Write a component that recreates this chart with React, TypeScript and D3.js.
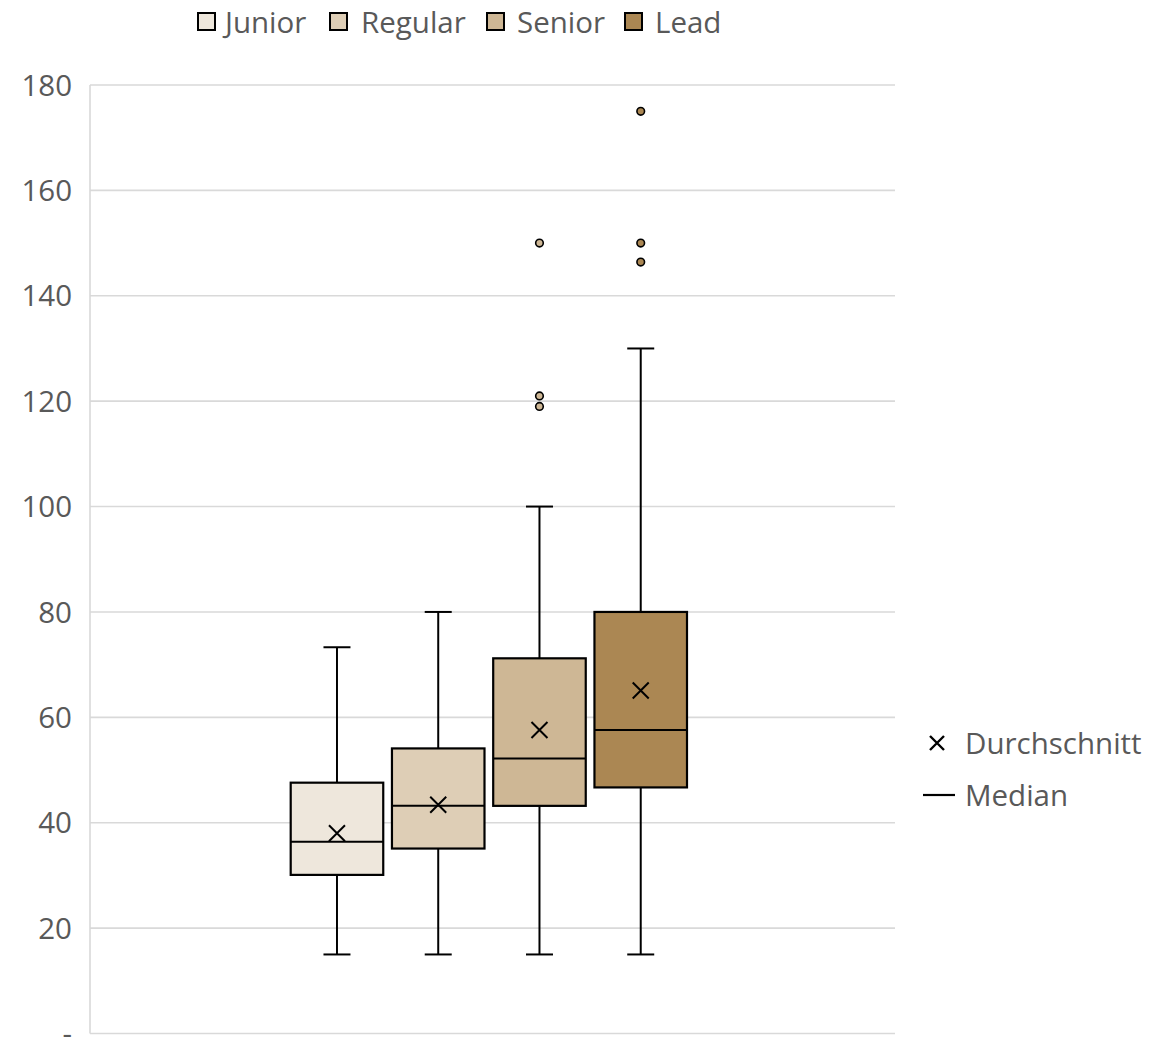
import React from "react";
import * as d3 from "d3";

const series = ["Junior", "Regular", "Senior", "Lead"];
const colors = ["#EEE7DC", "#DECEB6", "#CEB795", "#AB8753"];
const whiskerLow = [15, 15, 15, 15];
const q1 = [30.1, 35.1, 43.2, 46.7];
const median = [36.4, 43.2, 52.2, 57.6];
const q3 = [47.6, 54.1, 71.2, 80];
const whiskerHigh = [73.3, 80, 100, 130];
const mean = [38.0, 43.4, 57.6, 65.1];
const outliers: number[][] = [[], [], [150, 121, 119], [175, 150, 146.4]];
const yTicks = [0, 20, 40, 60, 80, 100, 120, 140, 160, 180];
const meanLabel = "Durchschnitt";
const medianLabel = "Median";

const W = 1170;
const H = 1040;
const plotL = 90;
const plotR = 895;
const plotT = 85;
const plotB = 1033.5;
const font = "'Open Sans', 'Noto Sans', sans-serif";
const textColor = "#595959";
const fs = 29.5;

export default function App() {
  const y = d3.scaleLinear().domain([0, 180]).range([plotB, plotT]);
  const x = d3.scaleBand<string>().domain(series).range([290.7, 687]).paddingInner(0.086).paddingOuter(0);
  const bw = x.bandwidth();
  const cap = 13.5;
  const xm = 8;

  const legendItems = [
    { sx: 198, tx: 225 },
    { sx: 330, tx: 361 },
    { sx: 487, tx: 517 },
    { sx: 625, tx: 655 },
  ];

  return (
    <svg width={W} height={H} style={{ position: "absolute", left: 0, top: 0 }} fontFamily={font}>
      <rect x={0} y={0} width={W} height={H} fill="#fff" />
      {yTicks.filter((t) => t > 0).map((t) => (
        <line key={t} x1={plotL} x2={plotR} y1={y(t)} y2={y(t)} stroke="#D9D9D9" strokeWidth={1.6} />
      ))}
      <line x1={plotL} x2={plotL} y1={plotT} y2={plotB} stroke="#D9D9D9" strokeWidth={1.6} />
      <line x1={plotL} x2={plotR} y1={plotB} y2={plotB} stroke="#D9D9D9" strokeWidth={1.6} />
      {yTicks.map((t) => (
        <text key={t} x={72} y={y(t)} dy="0.36em" textAnchor="end" fontSize={fs} fill={textColor}>
          {t === 0 ? "-" : t}
        </text>
      ))}
      {series.map((s, i) => {
        const x0 = x(s)!;
        const cx = x0 + bw / 2;
        return (
          <g key={s}>
            <line x1={cx} x2={cx} y1={y(whiskerLow[i])} y2={y(q1[i])} stroke="#000" strokeWidth={2} />
            <line x1={cx} x2={cx} y1={y(q3[i])} y2={y(whiskerHigh[i])} stroke="#000" strokeWidth={2} />
            <line x1={cx - cap} x2={cx + cap} y1={y(whiskerLow[i])} y2={y(whiskerLow[i])} stroke="#000" strokeWidth={2} />
            <line x1={cx - cap} x2={cx + cap} y1={y(whiskerHigh[i])} y2={y(whiskerHigh[i])} stroke="#000" strokeWidth={2} />
            <rect x={x0} y={y(q3[i])} width={bw} height={y(q1[i]) - y(q3[i])} fill={colors[i]} stroke="#000" strokeWidth={2.2} />
            <line x1={x0} x2={x0 + bw} y1={y(median[i])} y2={y(median[i])} stroke="#000" strokeWidth={2} />
            <path
              d={`M${cx - xm},${y(mean[i]) - xm}L${cx + xm},${y(mean[i]) + xm}M${cx - xm},${y(mean[i]) + xm}L${cx + xm},${y(mean[i]) - xm}`}
              stroke="#000"
              strokeWidth={2}
            />
            {outliers[i].map((o, j) => (
              <circle key={j} cx={cx} cy={y(o)} r={3.8} fill={colors[i]} stroke="#000" strokeWidth={1.6} />
            ))}
          </g>
        );
      })}
      {series.map((s, i) => (
        <g key={s}>
          <rect x={legendItems[i].sx} y={13} width={17} height={17} fill={colors[i]} stroke="#000" strokeWidth={2} />
          <text x={legendItems[i].tx} y={22} dy="0.36em" fontSize={fs} fill={textColor}>
            {s}
          </text>
        </g>
      ))}
      <path d="M930,736L944,750M930,750L944,736" stroke="#000" strokeWidth={2.4} />
      <text x={965} y={743} dy="0.36em" fontSize={fs} fill={textColor}>
        {meanLabel}
      </text>
      <line x1={923} x2={955} y1={795} y2={795} stroke="#000" strokeWidth={2.2} />
      <text x={965} y={795} dy="0.36em" fontSize={fs} fill={textColor}>
        {medianLabel}
      </text>
    </svg>
  );
}
